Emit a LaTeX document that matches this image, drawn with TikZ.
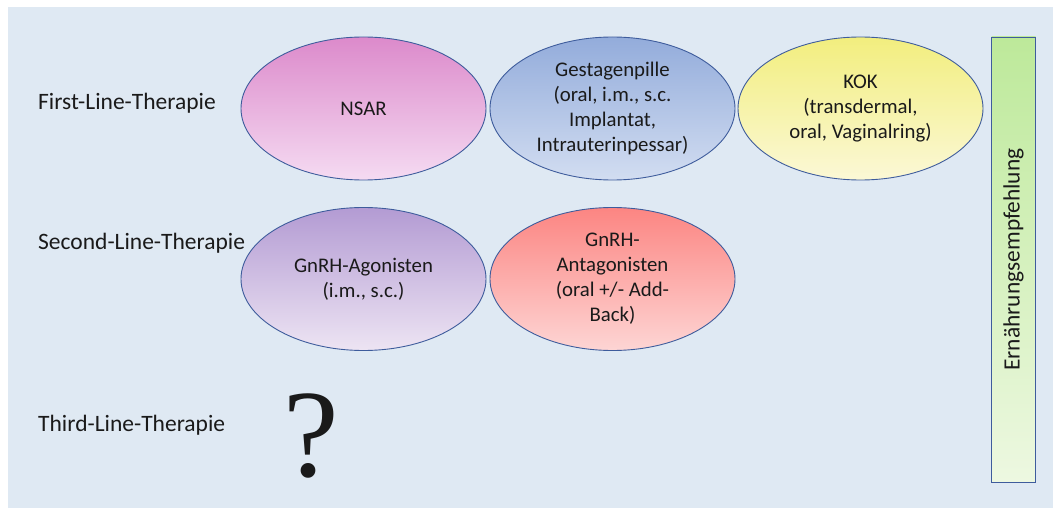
\documentclass[tikz,border=0pt]{standalone}
\usepackage{fontspec}
\setmainfont{Carlito}
\newfontfamily\qfont{Liberation Serif}
\usetikzlibrary{shapes.geometric}
\definecolor{bgblue}{HTML}{DFE9F3}
\definecolor{edgeblue}{HTML}{3E5C9C}
\definecolor{txt}{HTML}{1A1A1A}
\tikzset{
  therapy/.style={ellipse, draw=edgeblue, line width=0.9pt, minimum width=245pt, minimum height=143pt, inner sep=0pt, align=center, text=txt, font=\fontsize{20.8}{25}\selectfont, shading=axis, shading angle=0},
  rowlabel/.style={anchor=west, inner sep=0pt, text=txt, font=\fontsize{23.5}{26}\selectfont},
}
\begin{document}
\begin{tikzpicture}[x=1pt,y=-1pt]
\useasboundingbox (0,0) rectangle (1053,508);
\fill[bgblue] (8,7) rectangle (1053,508);
\node[rowlabel] (l1) at (38,103) {First-Line-Therapie};
\node[rowlabel] (l2) at (38,243) {Second-Line-Therapie};
\node[rowlabel] (l3) at (38,425) {Third-Line-Therapie};
\node[therapy, top color={rgb,255:red,220;green,138;blue,203}, bottom color={rgb,255:red,245;green,219;blue,242}] (nsar) at (363.5,108.5) {NSAR};
\node[therapy, top color={rgb,255:red,147;green,172;blue,219}, bottom color={rgb,255:red,210;green,221;blue,241}] (gest) at (612.5,108.5) {Gestagenpille\\(oral, i.m., s.c.\\Implantat,\\Intrauterinpessar)};
\node[therapy, top color={rgb,255:red,242;green,238;blue,126}, bottom color={rgb,255:red,251;green,248;blue,214}] (kok) at (860.5,108.5) {KOK\\(transdermal,\\oral, Vaginalring)};
\node[therapy, top color={rgb,255:red,179;green,155;blue,211}, bottom color={rgb,255:red,237;green,228;blue,243}] (agon) at (363.5,279) {GnRH-Agonisten\\(i.m., s.c.)};
\node[therapy, top color={rgb,255:red,252;green,133;blue,130}, bottom color={rgb,255:red,253;green,213;blue,212}] (antag) at (612.5,279) {GnRH-\\Antagonisten\\(oral +/- Add-\\Back)};
\node[text=txt, inner sep=0pt, font=\qfont\fontsize{125}{125}\selectfont] (q) at (311,436) {?};
\node[draw=edgeblue, line width=0.9pt, minimum width=44pt, minimum height=445pt, inner sep=0pt, shading=axis, top color={rgb,255:red,189;green,233;blue,154}, bottom color={rgb,255:red,237;green,248;blue,225}] (diet) at (1013.5,259.5) {};
\node[rotate=90, text=txt, inner sep=0pt, font=\fontsize{23.4}{26}\selectfont] (dietlabel) at (diet.center) {Ernährungsempfehlung};
\end{tikzpicture}
\end{document}
